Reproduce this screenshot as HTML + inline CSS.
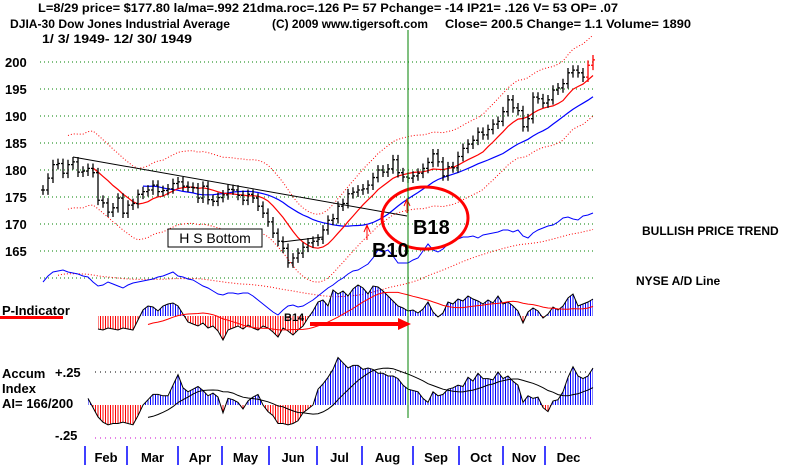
<!DOCTYPE html>
<html><head><meta charset="utf-8">
<style>
html,body{margin:0;padding:0;background:#fff;}
svg{display:block;font-family:"Liberation Sans",Arial,sans-serif;}
.b{font-weight:bold;}
</style></head>
<body>
<svg id="chart" width="800" height="465" viewBox="0 0 800 465" xmlns="http://www.w3.org/2000/svg">
<defs>
<pattern id="pBlue" width="2.5" height="4" patternUnits="userSpaceOnUse"><rect x="0" y="0" width="1" height="4" fill="#0000ff"/></pattern>
<pattern id="pRed" width="2.5" height="4" patternUnits="userSpaceOnUse"><rect x="0" y="0" width="1" height="4" fill="#ff0000"/></pattern>
<clipPath id="pAbove"><rect x="0" y="0" width="800" height="316"/></clipPath>
<clipPath id="pBelow"><rect x="0" y="316" width="800" height="100"/></clipPath>
<clipPath id="aAbove"><rect x="0" y="300" width="800" height="105"/></clipPath>
<clipPath id="aBelow"><rect x="0" y="405" width="800" height="60"/></clipPath>
</defs>
<g class="b" font-size="12">
<text x="38" y="12" textLength="580" lengthAdjust="spacingAndGlyphs">L=8/29  price= $177.80  la/ma=.992 21dma.roc=.126 P=  57 Pchange= -14 IP21= .126 V= 53 OP= .07</text>
<text x="10" y="28" textLength="220" lengthAdjust="spacingAndGlyphs">DJIA-30  Dow Jones Industrial Average</text>
<text x="272" y="28" textLength="156" lengthAdjust="spacingAndGlyphs">(C) 2009 www.tigersoft.com</text>
<text x="445" y="28" textLength="246" lengthAdjust="spacingAndGlyphs">Close=  200.5  Change= 1.1 Volume= 1890</text>
<text x="42" y="43" textLength="150" lengthAdjust="spacingAndGlyphs">1/ 3/ 1949- 12/ 30/ 1949</text>
</g>
<g id="grid"></g>
<g id="yticks" class="b" font-size="13"></g>
<g id="marks"></g>
<g id="annot">
<line x1="73" y1="157" x2="407" y2="216" stroke="#000" stroke-width="1"/>
<line x1="282" y1="242" x2="323" y2="237" stroke="#000" stroke-width="1"/>
<rect x="168" y="229" width="94" height="18" fill="#fff" stroke="#000" stroke-width="1"/>
<text x="215" y="243" font-size="14" text-anchor="middle">H S Bottom</text>
<ellipse cx="425" cy="218" rx="43" ry="31" fill="none" stroke="#ff0000" stroke-width="3"/>
<text x="413" y="234" font-size="20" class="b">B18</text>
<text x="372" y="257" font-size="20" class="b">B10</text>
<path d="M367 240 L367 225 M364 232 L367 225 L370 232" stroke="#ff0000" fill="none"/>
<path d="M407 213 L407 199 M404 206 L407 199 L410 206" stroke="#ff0000" fill="none"/>
<line x1="408" y1="30" x2="408" y2="418" stroke="#008000" stroke-width="1"/>
<text x="284" y="321" font-size="11" class="b">B14</text>
<path d="M310 324 L400 324" stroke="#ff0000" stroke-width="4"/>
<path d="M398 318 L411 324 L398 330 Z" fill="#ff0000"/>
<text x="2" y="315" font-size="13" class="b">P-Indicator</text>
<rect x="0" y="316" width="63" height="3" fill="#ff0000"/>
<text x="2" y="378" font-size="13" class="b">Accum</text>
<text x="2" y="393" font-size="13" class="b">Index</text>
<text x="2" y="408" font-size="13" class="b">AI= 166/200</text>
<text x="55" y="377" font-size="13" class="b">+.25</text>
<text x="55" y="440" font-size="13" class="b">-.25</text>
<text x="642" y="235" font-size="12" class="b">BULLISH PRICE TREND</text>
<text x="636" y="285" font-size="12" class="b">NYSE A/D Line</text>
</g>
<g id="xaxis" class="b" font-size="13"></g>
</svg>
<script>
const closes=[176.3,178.5,181,181.2,179.4,181,181.5,179.6,179.8,180.3,179.5,174.4,173.9,172.2,173,174.8,172,173.5,173.8,175.5,176,176.3,177.2,176,176.2,176.5,177.5,177.8,177,176.8,176.7,174.8,177,174.5,174.2,174.9,175.4,176.4,176.3,175.3,174.4,175.5,174.8,173.3,172,170.4,168.3,166.8,165.5,162.8,163.7,164.6,165.7,166.5,166.8,167.2,168.9,170.7,171,173.3,173.8,175.6,175.9,176.3,176.5,177.2,178.6,180,179.6,180.2,181.9,179.5,178.7,178.5,178.9,179.4,180.3,181.4,183,181.5,178.9,180.6,180.4,182.5,184,184.8,185.5,187,186.5,187.5,188.5,189,190.8,193,191.5,191,188,189.5,193.5,193.2,192.4,193,194.8,195.2,196,198,198.5,198,197.2,199.4,200.4];
const adLine=[14,20,24,25,26,24,23,22,20,19,14,10,11,14,12,10,8,11,13,14,15,16,17,19,20,22,24,20,19,17,16,13,10,8,5,2,1,3,3,2,3,3,0,-4,-8,-12,-16,-19,-14,-10,-9,-11,-10,-7,-4,0,4,8,11,15,18,22,25,26,29,32,38,46,44,46,40,33,33,33,36,38,45,52,46,44,47,52,55,57,59,59,60,58,61,62,63,64,66,66,64,66,60,58,63,66,68,70,71,74,78,79,77,76,80,81,83];
const pInd=[-13,-14,-12,-13,-14,-12,-13,-14,-4,6,10,9,5,10,12,13,10,2,-6,-8,-10,-7,-12,-10,-15,-24,-14,-12,-10,-13,-9,-12,-14,-10,-12,-16,-21,-12,-15,-19,-14,-10,-2,5,14,16,10,26,22,25,20,27,31,28,22,30,29,25,20,15,10,8,5,6,3,7,14,4,-1,3,14,12,17,15,20,17,15,12,16,13,20,12,14,10,5,-7,4,8,5,-2,2,9,6,10,18,22,10,12,14,17];
const accum=[.05,-.02,-.09,-.13,-.15,-.14,-.14,-.13,-.14,-.15,-.08,0,.04,.08,.08,.07,.07,.15,.23,.13,.1,.12,.14,.11,.07,.09,.06,-.06,.05,.04,.02,-.03,.03,.06,.08,0,-.05,-.08,-.14,-.14,-.15,-.14,-.12,-.06,-.03,0,.12,.16,.21,.27,.36,.32,.28,.3,.3,.27,.28,.27,.24,.24,.22,.22,.2,.15,.12,.11,.1,.05,.02,.1,.07,.08,.12,.13,.15,.14,.21,.18,.24,.2,.2,.19,.25,.2,.22,.18,.15,.02,.07,.05,.06,-.02,-.05,.03,.04,.1,.21,.29,.22,.2,.22,.28];
const priceTicks=[200,195,190,185,180,175,170,165,160];
const months=["Feb","Mar","Apr","May","Jun","Jul","Aug","Sep","Oct","Nov","Dec"];
const monthStartIdx=[8.4,16.8,27,35.8,45.2,54.8,63.8,74,83.2,92,100.4];
const P_OFFSET=11, AI_OFFSET=9, AD_OFFSET=0;

const NS="http://www.w3.org/2000/svg";
const X0=43, X1=593;
const N=closes.length;
function xS(i){return X0+i*(X1-X0)/(N-1);}
function yP(v){return 62+(200-v)*5.4;}
function yAD(v){return 296-v;}
function yPI(v){return 316-v;}
function yAI(v){return 405-v*132;}
function mk(tag,attrs,parent){const e=document.createElementNS(NS,tag);for(const k in attrs)e.setAttribute(k,attrs[k]);parent.appendChild(e);return e;}
function ma(arr,w){const out=[];for(let i=0;i<arr.length;i++){const s=Math.max(0,i-w+1);let t=0;for(let j=s;j<=i;j++)t+=arr[j];out.push(t/(i-s+1));}return out;}
function pathFrom(arr,off,start,fx,fy){let d="";for(let i=start;i<arr.length;i++){d+=(d?"L":"M")+fx(i+off).toFixed(1)+" "+fy(arr[i]).toFixed(1);}return d;}

const grid=document.getElementById('grid');
const yt=document.getElementById('yticks');
const marks=document.getElementById('marks');
const xa=document.getElementById('xaxis');

priceTicks.forEach(function(v){
  const g=mk('line',{x1:40,x2:593,y1:yP(v),y2:yP(v),stroke:'#008000','stroke-dasharray':'1 3'},grid);
  
  
  if(v>=165){
    const t=mk('text',{x:5,y:yP(v)+5},yt);
    t.textContent=v;
    
    
  }
});
const g1=mk('line',{x1:95,x2:593,y1:yAI(.25),y2:yAI(.25),stroke:'#000','stroke-dasharray':'1 4'},grid);


const g2=mk('line',{x1:95,x2:593,y1:yAI(-.25),y2:yAI(-.25),stroke:'#cc00cc','stroke-dasharray':'1 4'},grid);



const ma21=ma(closes,9), ma50=ma(closes,22);
const up=mk('path',{d:pathFrom(ma21.map(v=>v*1.038),0,5,xS,yP),fill:'none',stroke:'#ff0000','stroke-dasharray':'1 2'},marks);


const lo=mk('path',{d:pathFrom(ma21.map(v=>v*0.962),0,5,xS,yP),fill:'none',stroke:'#ff0000','stroke-dasharray':'1 2'},marks);


const mb=mk('path',{d:pathFrom(ma50,0,20,xS,yP),fill:'none',stroke:'#0000ff','stroke-width':1.2},marks);


const mr=mk('path',{d:pathFrom(ma21,0,10,xS,yP),fill:'none',stroke:'#ff0000','stroke-width':1.2},marks);



closes.forEach(function(c,i){
  const o=i>0?closes[i-1]:c;
  const hi=Math.max(o,c)+0.9, lw=Math.min(o,c)-0.9;
  const x=xS(i);
  const col=(i>=N-2)?'#ff0000':'#000';
  const b=mk('path',{d:'M'+x+' '+yP(hi)+'L'+x+' '+yP(lw)+'M'+(x-2)+' '+yP(o)+'L'+x+' '+yP(o)+'M'+x+' '+yP(c)+'L'+(x+2)+' '+yP(c),stroke:col,'stroke-width':1.3,fill:'none'},marks);
  
  
});

const adm=ma(adLine,30);
const adr=mk('path',{d:pathFrom(adm,AD_OFFSET,3,xS,yAD),fill:'none',stroke:'#ff0000','stroke-dasharray':'1 2'},marks);


const ad=mk('path',{d:pathFrom(adLine,AD_OFFSET,0,xS,yAD),fill:'none',stroke:'#0000ff'},marks);



function area(arr,off,fy,zeroY,clipA,clipB,nameBase){
  let d='M'+xS(off)+' '+zeroY;
  arr.forEach(function(v,i){d+='L'+xS(i+off).toFixed(1)+' '+fy(v).toFixed(1);});
  d+='L'+xS(arr.length-1+off)+' '+zeroY+'Z';
  const a1=mk('path',{d:d,fill:'url(#pBlue)','clip-path':'url(#'+clipA+')'},marks);
  
  
  const a2=mk('path',{d:d,fill:'url(#pRed)','clip-path':'url(#'+clipB+')'},marks);
  
  
  const ln=mk('path',{d:pathFrom(arr,off,0,xS,fy),fill:'none',stroke:'#000'},marks);
  
  
}
area(pInd,P_OFFSET,yPI,316,'pAbove','pBelow','p-indicator');
area(accum,AI_OFFSET,yAI,405,'aAbove','aBelow','accum-index');
const pma=ma(pInd,14);
const pm=mk('path',{d:pathFrom(pma,P_OFFSET,10,xS,yPI),fill:'none',stroke:'#ff0000'},marks);


const aim=ma(accum,12);
const am=mk('path',{d:pathFrom(aim,AI_OFFSET,12,xS,yAI),fill:'none',stroke:'#000'},marks);



monthStartIdx.forEach(function(mi,k){
  const x=xS(mi);
  const l=mk('line',{x1:x,x2:x,y1:446,y2:465,stroke:'#0000ff','stroke-width':1.5},xa);
  
  
  const nx=k<monthStartIdx.length-1?xS(monthStartIdx[k+1]):592;
  const t=mk('text',{x:(x+nx)/2,y:462,'text-anchor':'middle'},xa);
  t.textContent=months[k];
  
  
});
</script>
</body></html>
